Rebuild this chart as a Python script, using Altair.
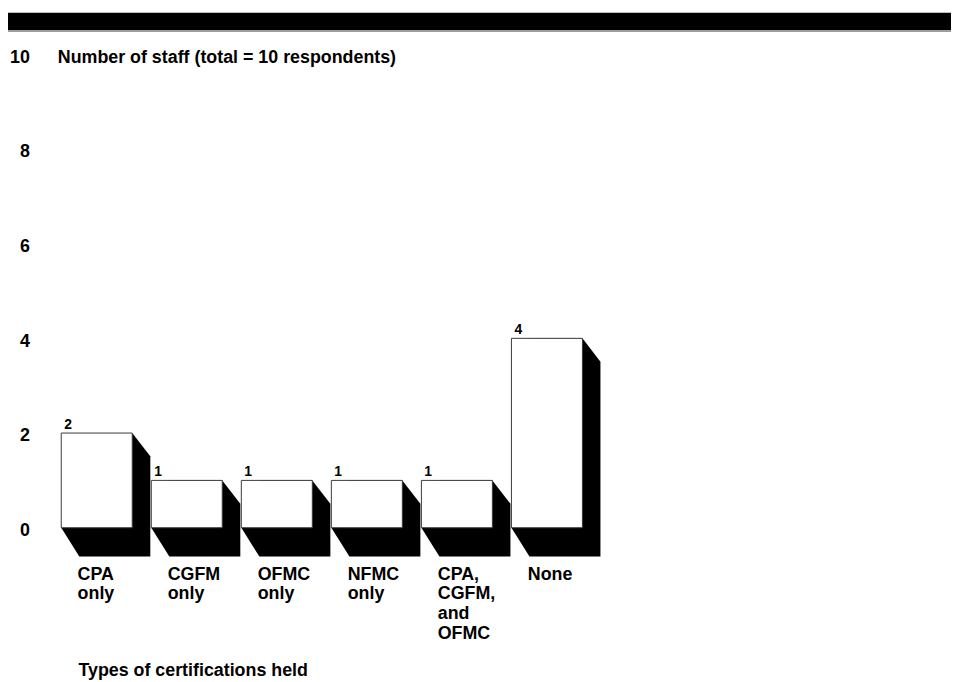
import json
import altair as alt
import pandas as pd

# ---- data ----
categories = ["CPA only", "CGFM only", "OFMC only", "NFMC only", "CPA, CGFM, and OFMC", "None"]
label_lines = [["CPA", "only"], ["CGFM", "only"], ["OFMC", "only"], ["NFMC", "only"],
               ["CPA,", "CGFM,", "and", "OFMC"], ["None"]]
counts = [2, 1, 1, 1, 1, 4]
y_ticks = [0, 2, 4, 6, 8, 10]
y_title = "Number of staff (total = 10 respondents)"
x_title = "Types of certifications held"

# ---- layout / style ----
W, H = 951, 674
FONT = "Liberation Sans"
BAR_W = 0.7885      # bar width, in slot units
SH_X = 0.2004       # shadow depth (x), slot units
SH_TOP = 0.492      # shadow drop at bar top, value units
SH_BOT = 0.607      # shadow drop below baseline, value units

bars = pd.DataFrame({
    "slot": list(range(len(counts))),
    "right": [i + BAR_W for i in range(len(counts))],
    "count": counts,
    "base": [0] * len(counts),
    "name": categories,
})

rows = []
for i, v in enumerate(counts):
    u0, u1 = i, i + BAR_W
    rows += [
        dict(bar=i, slot=u0, count=0, bot=0),
        dict(bar=i, slot=u0 + SH_X, count=v, bot=-SH_BOT),
        dict(bar=i, slot=u1, count=v, bot=-SH_BOT),
        dict(bar=i, slot=u1 + SH_X, count=v - SH_TOP, bot=-SH_BOT),
    ]
shadow_df = pd.DataFrame(rows)

xs = alt.Scale(domain=[0, 10], range=[53.7, 961.7], nice=False, zero=False)
ys = alt.Scale(domain=[0, 10], range=[521.3, 43.8], nice=False, zero=False)

label_expr = json.dumps(label_lines) + "[datum.value]"

x_axis = alt.Axis(
    values=list(range(len(counts))), labelExpr=label_expr, orient="bottom",
    offset=-(H - 559), labelAlign="left", labelBaseline="top", labelPadding=0,
    labelOffset=16, labelLineHeight=20, labelFont=FONT, labelFontSize=18,
    labelFontWeight="bold", labelColor="black", labelOverlap=False,
    labelFlush=False, labelBound=False, ticks=False, domain=False, grid=False,
    title=x_title, titleFont=FONT, titleFontSize=18, titleFontWeight="bold",
    titleColor="black", titleAlign="left", titleBaseline="alphabetic",
    titleAngle=0, titleX=70.5, titleY=111,
)
y_axis = alt.Axis(
    values=y_ticks, orient="left", offset=-21.5, labelAlign="right",
    labelBaseline="middle", labelPadding=0, labelOffset=3, labelFont=FONT,
    labelFontSize=18, labelFontWeight="bold", labelColor="black",
    labelOverlap=False, labelFlush=False, labelBound=False,
    ticks=False, domain=False, grid=False,
    title=y_title, titleFont=FONT, titleFontSize=18, titleFontWeight="bold",
    titleColor="black", titleAlign="left", titleBaseline="alphabetic",
    titleAngle=0, titleX=28.2, titleY=52.5,
)

X = alt.X("slot:Q", scale=xs, axis=x_axis, title=x_title)
Y = alt.Y("count:Q", scale=ys, axis=y_axis, title=y_title)

shadow = alt.Chart(shadow_df).mark_area(color="black", interpolate="linear").encode(
    x=X, y=Y, y2="bot:Q", detail="bar:N",
)

front = alt.Chart(bars).mark_rect(fill="white", stroke="#3a3a3a", strokeWidth=1).encode(
    x=X, x2="right:Q", y=Y, y2="base:Q",
)

vals = alt.Chart(bars).mark_text(
    align="left", baseline="alphabetic", dx=3, dy=-4.5, font=FONT,
    fontSize=14, fontWeight="bold", color="black",
).encode(x=X, y=Y, text="count:Q")

band = alt.Chart(pd.DataFrame({"a": [0]})).mark_rect(color="black").encode(
    x=alt.value(0), x2=alt.value(W), y=alt.value(2), y2=alt.value(19.7)
)
band_line = alt.Chart(pd.DataFrame({"a": [0]})).mark_rule(color="#666666", strokeWidth=1).encode(
    x=alt.value(0), x2=alt.value(W), y=alt.value(20.5)
)

chart = alt.layer(shadow, front, vals, band, band_line).properties(
    width=W, height=H, autosize=alt.AutoSizeParams(type="none"), padding=0,
).configure_view(stroke=None)

chart.save("out.html", embed_options={"renderer": "svg", "actions": False})
